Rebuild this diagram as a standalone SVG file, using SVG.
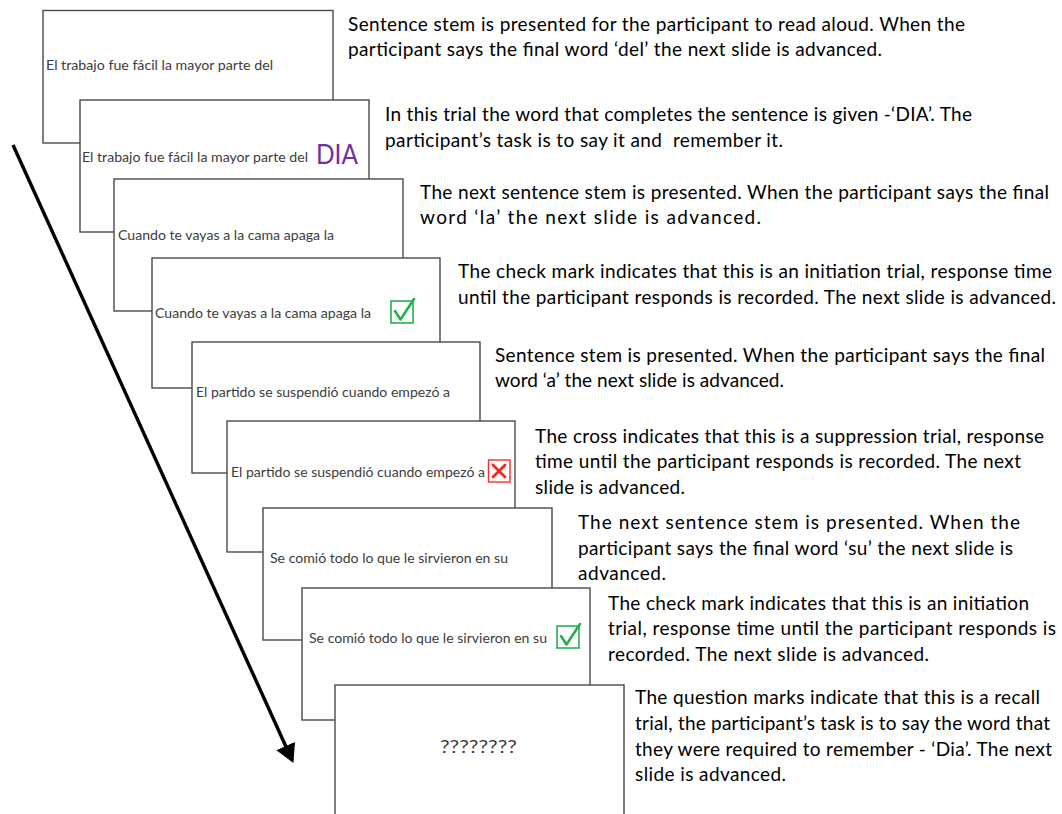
<svg xmlns="http://www.w3.org/2000/svg" width="1062" height="814" viewBox="0 0 1062 814">
<defs>
<style>
.slide{fill:#fff;stroke:#4a4a4a;stroke-width:1.4}
.st{font-family:Lato,"Liberation Sans",sans-serif;font-size:14px;fill:#3c3c3c}
.desc{font-family:Lato,"Liberation Sans",sans-serif;font-size:19px;fill:#000}
.chk{fill:none;stroke:#22b14c;stroke-width:1.6}
.chkm{fill:none;stroke:#22b14c;stroke-width:2.6;stroke-linecap:round;stroke-linejoin:round}
.crs{fill:none;stroke:#ff2a2a;stroke-width:1.4}
.crsm{fill:none;stroke:#ff2020;stroke-width:2.8;stroke-linecap:round}
</style>
<marker id="ah" markerWidth="6" markerHeight="6" refX="4.5" refY="3" orient="auto" markerUnits="strokeWidth">
<path d="M0,0 L5.5,3 L0,6 Z" fill="#000"/>
</marker>
</defs>
<rect width="1062" height="814" fill="#fff"/>

<g id="slide1">
<rect class="slide" x="43" y="10.5" width="290" height="132.5"/>
<text class="st" x="46" y="70" textLength="227" lengthAdjust="spacingAndGlyphs">El trabajo fue fácil la mayor parte del</text>
</g>
<g id="desc1">
<text class="desc" x="348" y="31" textLength="617">Sentence stem is presented for the participant to read aloud. When the</text>
<text class="desc" x="348" y="56" textLength="534">participant says the final word ‘del’ the next slide is advanced.</text>
</g>

<g id="slide2">
<rect class="slide" x="80" y="100" width="289" height="132"/>
<text class="st" x="82" y="162" textLength="226" lengthAdjust="spacingAndGlyphs">El trabajo fue fácil la mayor parte del</text>
<text x="316" y="164" font-family="Lato,'Liberation Sans',sans-serif" font-size="26" fill="#7030a0" textLength="42" lengthAdjust="spacingAndGlyphs">DIA</text>
</g>
<g id="desc2">
<text class="desc" x="385" y="121" textLength="587">In this trial the word that completes the sentence is given -‘DIA’. The</text>
<text class="desc" x="385" y="147" textLength="398" xml:space="preserve">participant’s task is to say it and  remember it.</text>
</g>

<g id="slide3">
<rect class="slide" x="114" y="179" width="289" height="132"/>
<text class="st" x="118" y="240" textLength="216" lengthAdjust="spacingAndGlyphs">Cuando te vayas a la cama apaga la</text>
</g>
<g id="desc3">
<text class="desc" x="420" y="199" textLength="629">The next sentence stem is presented. When the participant says the final</text>
<text class="desc" x="420" y="224" textLength="341">word ‘la’ the next slide is advanced.</text>
</g>

<g id="slide4">
<rect class="slide" x="152" y="258" width="288" height="130"/>
<text class="st" x="155" y="318" textLength="216" lengthAdjust="spacingAndGlyphs">Cuando te vayas a la cama apaga la</text>
<rect class="chk" x="391" y="301" width="22" height="22"/>
<path class="chkm" d="M395,311 L400.5,319.5 L414,299"/>
</g>
<g id="desc4">
<text class="desc" x="458" y="278" textLength="594">The check mark indicates that this is an initiation trial, response time</text>
<text class="desc" x="458" y="304" textLength="598">until the participant responds is recorded. The next slide is advanced.</text>
</g>

<g id="slide5">
<rect class="slide" x="192" y="342" width="288" height="131"/>
<text class="st" x="196" y="397" textLength="254" lengthAdjust="spacingAndGlyphs">El partido se suspendió cuando empezó a</text>
</g>
<g id="desc5">
<text class="desc" x="495" y="362" textLength="550">Sentence stem is presented. When the participant says the final</text>
<text class="desc" x="495" y="387" textLength="289">word ‘a’ the next slide is advanced.</text>
</g>

<g id="slide6">
<rect class="slide" x="227" y="421" width="288" height="131"/>
<text class="st" x="231" y="477" textLength="254" lengthAdjust="spacingAndGlyphs">El partido se suspendió cuando empezó a</text>
<rect class="crs" x="488.5" y="460" width="21.5" height="22"/>
<path class="crsm" d="M493,465 L505,477 M505,465 L493,477"/>
</g>
<g id="desc6">
<text class="desc" x="535" y="443" textLength="509">The cross indicates that this is a suppression trial, response</text>
<text class="desc" x="535" y="468" textLength="486">time until the participant responds is recorded. The next</text>
<text class="desc" x="535" y="494" textLength="150">slide is advanced.</text>
</g>

<g id="slide7">
<rect class="slide" x="263" y="508" width="289" height="132"/>
<text class="st" x="270" y="563" textLength="238" lengthAdjust="spacingAndGlyphs">Se comió todo lo que le sirvieron en su</text>
</g>
<g id="desc7">
<text class="desc" x="578" y="529" textLength="442">The next sentence stem is presented. When the</text>
<text class="desc" x="578" y="555" textLength="435">participant says the final word ‘su’ the next slide is</text>
<text class="desc" x="578" y="580" textLength="88">advanced.</text>
</g>

<g id="slide8">
<rect class="slide" x="302" y="588" width="288" height="132"/>
<text class="st" x="309" y="643" textLength="238" lengthAdjust="spacingAndGlyphs">Se comió todo lo que le sirvieron en su</text>
<rect class="chk" x="557" y="626" width="22" height="22"/>
<path class="chkm" d="M561,636 L566.5,644.5 L580,624"/>
</g>
<g id="desc8">
<text class="desc" x="608" y="610" textLength="421">The check mark indicates that this is an initiation</text>
<text class="desc" x="608" y="635" textLength="448">trial, response time until the participant responds is</text>
<text class="desc" x="608" y="661" textLength="321">recorded. The next slide is advanced.</text>
</g>

<g id="slide9">
<rect class="slide" x="335" y="685" width="289" height="140"/>
<text x="440" y="753" font-family="Lato,'Liberation Sans',sans-serif" font-size="17" fill="#3c3c3c" textLength="77" lengthAdjust="spacingAndGlyphs">????????</text>
</g>
<g id="desc9">
<text class="desc" x="635" y="704" textLength="405">The question marks indicate that this is a recall</text>
<text class="desc" x="635" y="730" textLength="415">trial, the participant’s task is to say the word that</text>
<text class="desc" x="635" y="756" textLength="417">they were required to remember - ‘Dia’. The next</text>
<text class="desc" x="635" y="781" textLength="151">slide is advanced.</text>
</g>

<g id="connectors">
<line x1="13" y1="145" x2="292" y2="760" stroke="#000" stroke-width="3.4" marker-end="url(#ah)"/>
</g>
</svg>
